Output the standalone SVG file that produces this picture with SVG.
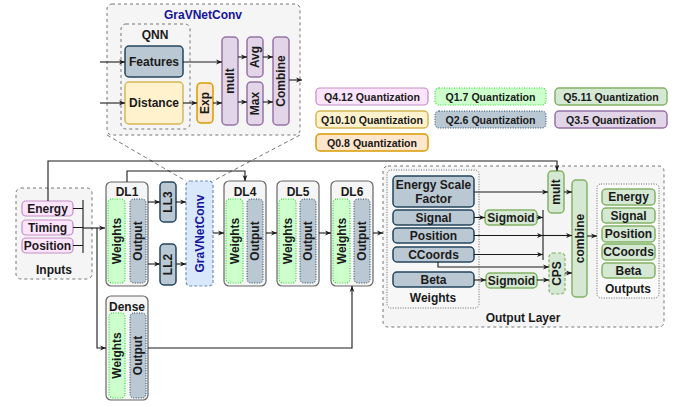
<svg xmlns="http://www.w3.org/2000/svg" width="677" height="407" viewBox="0 0 677 407">
  <defs>
    <marker id="arrow" viewBox="0 0 10 10" refX="10" refY="5" markerWidth="6" markerHeight="6" markerUnits="userSpaceOnUse" orient="auto">
      <path d="M0,1 L10,5 L0,9 L3,5 z" fill="#1a1a1a"/>
    </marker>
    <style>
      text { font-family: "Liberation Sans", Arial, sans-serif; font-weight: bold; fill: #1a1a1a; dominant-baseline: central; text-anchor: middle; }
      .t12 { font-size: 12px; }
      .t10 { font-size: 10.6px; }
      .blue { fill: #14149c; }
      .group { fill: #f5f5f5; stroke: #777; stroke-width: 1; stroke-dasharray: 3 3; }
      .inner { fill: #f7f7f7; stroke: #666; stroke-width: 1; stroke-dasharray: 1 1.5; }
      .layer { fill: #f5f5f5; stroke: #666; stroke-width: 1.2; }
      .pink { fill: #fde4fd; stroke: #c48fc4; stroke-width: 1.2; }
      .lgreen { fill: #ccffcc; stroke: #33dd33; stroke-width: 1.2; stroke-dasharray: 1 1.5; }
      .green { fill: #d5e8d4; stroke: #82b366; stroke-width: 1.5; }
      .dgreen { fill: #d5e8d4; stroke: #82b366; stroke-width: 1.2; stroke-dasharray: 3 2; }
      .slate { fill: #bac8d3; stroke: #23445d; stroke-width: 1.5; }
      .dslate { fill: #bac8d3; stroke: #23445d; stroke-width: 1; stroke-dasharray: 1 1.5; }
      .yellow { fill: #fff2cc; stroke: #d6b656; stroke-width: 1.5; }
      .orange { fill: #ffe6cc; stroke: #d79b00; stroke-width: 1.5; }
      .purple { fill: #e1d5e7; stroke: #9673a6; stroke-width: 1.5; }
      .gnc { fill: #dae8fc; stroke: #6c8ebf; stroke-width: 1.2; stroke-dasharray: 3 2; }
      .wire { fill: none; stroke: #1a1a1a; stroke-width: 1.1; }
      .arr { marker-end: url(#arrow); }
      .zoomline { fill: none; stroke: #777; stroke-width: 1; stroke-dasharray: 4 3; }
    </style>
  </defs>

  <!-- GravNetConv detail panel -->
  <g id="gravnet-detail">
    <rect class="group" x="107" y="4" width="193" height="131" rx="5"/>
    <text class="t12 blue" x="203" y="15">GraVNetConv</text>
    <g id="qnn">
      <rect class="group" x="121" y="24" width="69" height="105" rx="5" fill="none"/>
      <text class="t12" x="155" y="35">QNN</text>
    </g>
    <g id="features"><rect class="slate" x="125" y="46" width="58" height="31" rx="4"/><text class="t12" x="154" y="61.5">Features</text></g>
    <g id="distance"><rect class="yellow" x="125" y="82" width="58" height="42" rx="4"/><text class="t12" x="154" y="103">Distance</text></g>
    <g id="exp"><rect class="orange" x="197" y="83" width="16" height="40" rx="4"/><text class="t12" transform="translate(205,103) rotate(-90)">Exp</text></g>
    <g id="mult-g"><rect class="purple" x="222" y="37" width="16" height="88" rx="4"/><text class="t12" transform="translate(230,81) rotate(-90)">mult</text></g>
    <g id="avg"><rect class="purple" x="247" y="37" width="16" height="40" rx="4"/><text class="t12" transform="translate(255,57) rotate(-90)">Avg</text></g>
    <g id="max"><rect class="purple" x="247" y="82" width="16" height="43" rx="4"/><text class="t12" transform="translate(255,103.5) rotate(-90)">Max</text></g>
    <g id="combine-g"><rect class="purple" x="273" y="37" width="16" height="88" rx="4"/><text class="t12" transform="translate(281,81) rotate(-90)">Combine</text></g>
  </g>

  <!-- Quantization legend -->
  <g id="legend">
    <g id="q4-12"><rect class="pink" x="316" y="88" width="112" height="17" rx="4"/><text class="t10" x="372" y="96.5">Q4.12 Quantization</text></g>
    <g id="q1-7"><rect class="lgreen" x="435" y="88" width="111" height="17" rx="4"/><text class="t10" x="490.5" y="96.5">Q1.7 Quantization</text></g>
    <g id="q5-11"><rect class="green" x="555" y="88" width="112" height="17" rx="4"/><text class="t10" x="611" y="96.5">Q5.11 Quantization</text></g>
    <g id="q10-10"><rect class="yellow" x="316" y="111" width="112" height="17" rx="4"/><text class="t10" x="372" y="119.5">Q10.10 Quantization</text></g>
    <g id="q2-6"><rect class="dslate" x="435" y="111" width="111" height="17" rx="4"/><text class="t10" x="490.5" y="119.5">Q2.6 Quantization</text></g>
    <g id="q3-5"><rect class="purple" x="555" y="111" width="112" height="17" rx="4"/><text class="t10" x="611" y="119.5">Q3.5 Quantization</text></g>
    <g id="q0-8"><rect class="orange" x="316" y="134" width="112" height="17" rx="4"/><text class="t10" x="372" y="142.5">Q0.8 Quantization</text></g>
  </g>

  <!-- Inputs -->
  <g id="inputs">
    <rect class="group" x="16" y="188" width="76" height="91" rx="5"/>
    <text class="t12" x="54" y="270">Inputs</text>
    <g id="in-energy"><rect class="pink" x="22" y="201" width="51" height="15" rx="4"/><text class="t12" x="47.5" y="208.5">Energy</text></g>
    <g id="in-timing"><rect class="pink" x="22" y="220" width="51" height="15" rx="4"/><text class="t12" x="47.5" y="227.5">Timing</text></g>
    <g id="in-position"><rect class="pink" x="22" y="238" width="51" height="15" rx="4"/><text class="t12" x="47.5" y="245.5">Position</text></g>
  </g>

  <!-- Dense layers -->
  <g id="dl1">
    <rect class="layer" x="106" y="182" width="42" height="104" rx="5"/>
    <text class="t12" x="127" y="192">DL1</text>
    <rect class="lgreen" x="108" y="199" width="17" height="84" rx="4"/>
    <text class="t12" transform="translate(116.5,241) rotate(-90)">Weights</text>
    <rect class="dslate" x="130" y="199" width="16" height="84" rx="4"/>
    <text class="t12" transform="translate(138,241) rotate(-90)">Output</text>
  </g>
  <g id="ll3"><rect class="slate" x="160" y="182" width="16" height="40" rx="4"/><text class="t12" transform="translate(168,202) rotate(-90)">LL3</text></g>
  <g id="ll2"><rect class="slate" x="160" y="244" width="16" height="41" rx="4"/><text class="t12" transform="translate(168,264.5) rotate(-90)">LL2</text></g>
  <g id="gravnetconv"><rect class="gnc" x="186" y="181" width="27" height="105" rx="4"/><text class="t12 blue" transform="translate(199.5,233.5) rotate(-90)">GraVNetConv</text></g>
  <g id="dl4">
    <rect class="layer" x="224" y="181" width="42" height="105" rx="5"/>
    <text class="t12" x="245" y="192">DL4</text>
    <rect class="lgreen" x="226" y="199" width="17" height="84" rx="4"/>
    <text class="t12" transform="translate(234.5,241) rotate(-90)">Weights</text>
    <rect class="dslate" x="247" y="199" width="16" height="84" rx="4"/>
    <text class="t12" transform="translate(255,241) rotate(-90)">Output</text>
  </g>
  <g id="dl5">
    <rect class="layer" x="277" y="181" width="42" height="105" rx="5"/>
    <text class="t12" x="298" y="192">DL5</text>
    <rect class="lgreen" x="279" y="199" width="17" height="84" rx="4"/>
    <text class="t12" transform="translate(287.5,241) rotate(-90)">Weights</text>
    <rect class="dslate" x="300" y="199" width="16" height="84" rx="4"/>
    <text class="t12" transform="translate(308,241) rotate(-90)">Output</text>
  </g>
  <g id="dl6">
    <rect class="layer" x="331" y="181" width="42" height="105" rx="5"/>
    <text class="t12" x="352" y="192">DL6</text>
    <rect class="lgreen" x="333" y="199" width="17" height="84" rx="4"/>
    <text class="t12" transform="translate(341.5,241) rotate(-90)">Weights</text>
    <rect class="dslate" x="354" y="199" width="16" height="84" rx="4"/>
    <text class="t12" transform="translate(362,241) rotate(-90)">Output</text>
  </g>
  <g id="dense">
    <rect class="layer" x="106" y="296" width="42" height="104" rx="5"/>
    <text class="t12" x="127" y="307">Dense</text>
    <rect class="lgreen" x="109" y="313" width="16" height="85" rx="4"/>
    <text class="t12" transform="translate(117,355.5) rotate(-90)">Weights</text>
    <rect class="dslate" x="130" y="313" width="16" height="85" rx="4"/>
    <text class="t12" transform="translate(138,355.5) rotate(-90)">Output</text>
  </g>

  <!-- Output layer -->
  <g id="output-layer">
    <rect class="group" x="383" y="166" width="281" height="161" rx="5"/>
    <text class="t12" x="523" y="318">Output Layer</text>
  </g>
  <g id="weights">
    <rect class="inner" x="387" y="170" width="92" height="138" rx="4"/>
    <text class="t12" x="433" y="298">Weights</text>
    <g id="w-esf"><rect class="slate" x="393" y="176" width="81" height="31" rx="4"/><text class="t12" x="433.5" y="185">Energy Scale</text><text class="t12" x="433.5" y="199">Factor</text></g>
    <g id="w-signal"><rect class="slate" x="393" y="210" width="81" height="15" rx="4"/><text class="t12" x="433.5" y="217.5">Signal</text></g>
    <g id="w-position"><rect class="slate" x="393" y="228" width="81" height="15" rx="4"/><text class="t12" x="433.5" y="235.5">Position</text></g>
    <g id="w-ccoords"><rect class="slate" x="393" y="247" width="81" height="15" rx="4"/><text class="t12" x="433.5" y="254.5">CCoords</text></g>
    <g id="w-beta"><rect class="slate" x="393" y="272" width="81" height="15" rx="4"/><text class="t12" x="433.5" y="279.5">Beta</text></g>
  </g>
  <g id="sigmoid-signal"><rect class="green" x="485" y="210" width="52" height="15" rx="4"/><text class="t12" x="511" y="217.5">Sigmoid</text></g>
  <g id="sigmoid-beta"><rect class="green" x="486" y="273" width="51" height="15" rx="4"/><text class="t12" x="511.5" y="280.5">Sigmoid</text></g>
  <g id="mult"><rect class="green" x="548" y="171" width="16" height="42" rx="4"/><text class="t12" transform="translate(556,192) rotate(-90)">mult</text></g>
  <g id="cps"><rect class="dgreen" x="549" y="253" width="16" height="41" rx="4"/><text class="t12" transform="translate(557,273.5) rotate(-90)">CPS</text></g>
  <g id="combine"><rect class="green" x="572" y="180" width="15" height="117" rx="4"/><text class="t12" transform="translate(579.5,238.5) rotate(-90)">combine</text></g>
  <g id="outputs">
    <rect class="inner" x="597" y="184" width="62" height="114" rx="4" style="fill:#fafafa"/>
    <text class="t12" x="628" y="289">Outputs</text>
    <g id="o-energy"><rect class="green" x="602" y="189" width="53" height="16" rx="4"/><text class="t12" x="628.5" y="197">Energy</text></g>
    <g id="o-signal"><rect class="green" x="602" y="208" width="53" height="15" rx="4"/><text class="t12" x="628.5" y="215.5">Signal</text></g>
    <g id="o-position"><rect class="green" x="602" y="226" width="53" height="16" rx="4"/><text class="t12" x="628.5" y="234">Position</text></g>
    <g id="o-ccoords"><rect class="green" x="602" y="244" width="53" height="16" rx="4"/><text class="t12" x="628.5" y="252">CCoords</text></g>
    <g id="o-beta"><rect class="green" x="602" y="263" width="53" height="15" rx="4"/><text class="t12" x="628.5" y="270.5">Beta</text></g>
  </g>

  <!-- Connectors -->
  <g id="connectors">
    <!-- panel outline to the GravNetConv node -->
    <path class="zoomline" d="M107,135 L186,181"/>
    <path class="zoomline" d="M300,135 L213,181"/>
    <!-- inside GravNetConv -->
    <path class="wire arr" d="M100,62 H125"/>
    <path class="wire arr" d="M100,103 H125"/>
    <path class="wire arr" d="M183,62 H222"/>
    <path class="wire arr" d="M183,103 H197"/>
    <path class="wire arr" d="M213,103 H222"/>
    <path class="wire arr" d="M238,57 H247"/>
    <path class="wire arr" d="M238,102 H247"/>
    <path class="wire arr" d="M263,57 H273"/>
    <path class="wire arr" d="M263,102 H273"/>
    <path class="wire arr" d="M289,80 H302"/>
    <!-- inputs -->
    <path class="wire" d="M73,208.5 H83 M73,227.5 H83 M73,245.5 H83 M83,200 V253"/>
    <path class="wire arr" d="M83,228 H105"/>
    <path class="wire arr" d="M97,228 V348 H106"/>
    <path class="wire arr" d="M48,201 V161 H557 V171"/>
    <!-- dense chain -->
    <path class="wire arr" d="M127,182 V171 H245 V181"/>
    <path class="wire arr" d="M148,202 H160"/>
    <path class="wire arr" d="M148,264 H160"/>
    <path class="wire arr" d="M176,202 H186"/>
    <path class="wire arr" d="M176,264 H186"/>
    <path class="wire arr" d="M213,233 H224"/>
    <path class="wire arr" d="M266,233 H277"/>
    <path class="wire arr" d="M319,233 H331"/>
    <path class="wire arr" d="M373,233 H383"/>
    <path class="wire arr" d="M148,348 H352 V286"/>
    <!-- output layer -->
    <path class="wire arr" d="M474,192 H548"/>
    <path class="wire arr" d="M474,217.5 H485"/>
    <path class="wire" d="M543,210 V260"/>
    <path class="wire arr" d="M537,217.5 H543"/>
    <path class="wire arr" d="M474,235.5 H543"/>
    <path class="wire arr" d="M543,235.5 H572"/>
    <path class="wire arr" d="M474,254.5 H543"/>
    <path class="wire arr" d="M438,262 V267 H549"/>
    <path class="wire arr" d="M474,280 H486"/>
    <path class="wire arr" d="M537,280 H549"/>
    <path class="wire arr" d="M564,192 H572"/>
    <path class="wire arr" d="M565,273 H572"/>
    <path class="wire arr" d="M587,236 H597"/>
  </g>
</svg>
